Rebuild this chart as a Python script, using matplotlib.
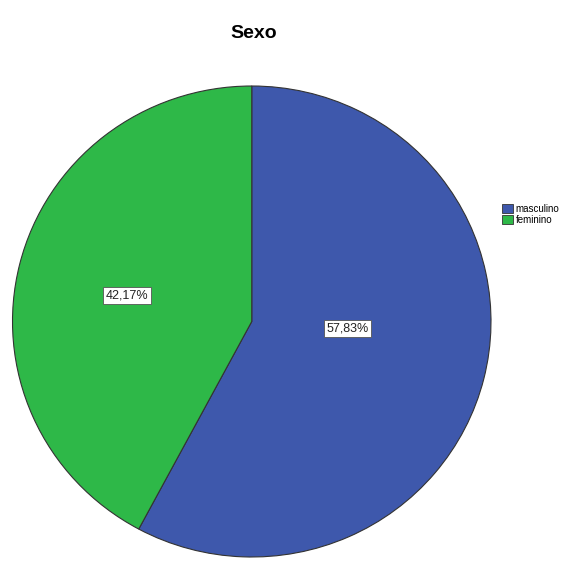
import matplotlib.pyplot as plt
from matplotlib.patches import Patch

categories = ["masculino", "feminino"]
values = [57.83, 42.17]
colors = ["#3E58AC", "#2EB848"]
title = "Sexo"

# label spots (data coords, radius 1 pie)
label_pos = [(0.40, -0.03), (-0.52, 0.11)]

W, H = 581, 561
fig = plt.figure(figsize=(W / 100, H / 100), dpi=100)
fig.patch.set_facecolor("white")

# pie box in pixels (the reference is slightly squashed vertically)
x0, x1, y0, y1 = 12.5, 491, 86, 557
ax = fig.add_axes([x0 / W, (H - y1) / H, (x1 - x0) / W, (y1 - y0) / H])
ax.pie(values, colors=colors, startangle=90, counterclock=False,
       wedgeprops=dict(edgecolor="#333333", linewidth=0.8), radius=1)
ax.set_xlim(-1.0, 1.0)
ax.set_ylim(-1.0, 1.0)
ax.set_aspect("auto")
ax.axis("off")

for v, (x, y) in zip(values, label_pos):
    ax.text(x, y, f"{v:.2f}%".replace(".", ","), ha="center", va="center",
            fontsize=9, color="#222222", family="Liberation Sans",
            bbox=dict(facecolor="white", edgecolor="#555555", linewidth=0.6, pad=2))

fig.text(254 / W, 1 - 33 / H, title, ha="center", va="center",
         fontsize=14, fontweight="bold", family="Liberation Sans")

handles = [Patch(facecolor=c, edgecolor="#333333", linewidth=0.6) for c in colors]
fig.legend(handles, categories, loc="upper left", bbox_to_anchor=(502 / W, 1 - 204 / H),
           frameon=False, handlelength=1.1, handleheight=1.1,
           handletextpad=0.3, labelspacing=0.1, borderpad=0, borderaxespad=0,
           prop={"family": "Liberation Sans", "size": 7})

fig.savefig("out.png", dpi=100)
